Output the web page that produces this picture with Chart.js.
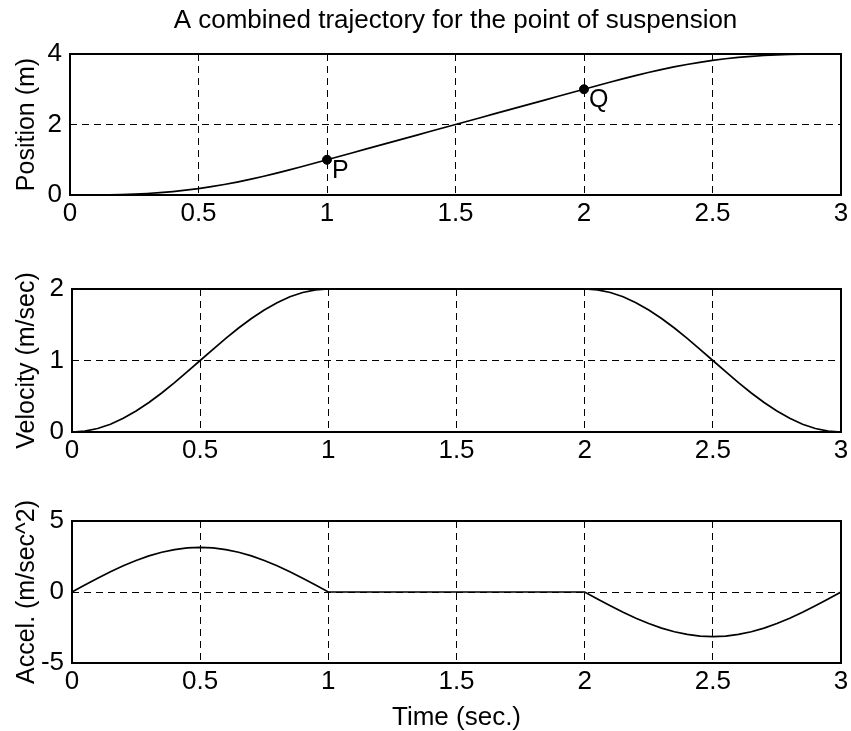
<!DOCTYPE html>
<html><head><meta charset="utf-8">
<script src="https://cdn.jsdelivr.net/npm/chart.js@4/dist/chart.umd.min.js"></script>
<style>
html,body{margin:0;padding:0;background:#fff;}
body{width:851px;height:731px;position:relative;overflow:hidden;}
canvas{position:absolute;left:0;}
</style></head><body>
<canvas id="c1" width="851" height="240" style="top:0px"></canvas>
<canvas id="c2" width="851" height="240" style="top:240px"></canvas>
<canvas id="c3" width="851" height="251" style="top:480px"></canvas>
<script>
// ---- data ----
const chartTitle = 'A combined trajectory for the point of suspension';
const xAxisTitle = 'Time (sec.)';
const times = [0,0.05,0.1,0.15,0.2,0.25,0.3,0.35,0.4,0.45,0.5,0.55,0.6,0.65,0.7,0.75,0.8,0.85,0.9,0.95,
  1,1.05,1.1,1.15,1.2,1.25,1.3,1.35,1.4,1.45,1.5,1.55,1.6,1.65,1.7,1.75,1.8,1.85,1.9,1.95,
  2,2.05,2.1,2.15,2.2,2.25,2.3,2.35,2.4,2.45,2.5,2.55,2.6,2.65,2.7,2.75,2.8,2.85,2.9,2.95,3];
const position = [0,0.0002,0.0016,0.0055,0.0129,0.0249,0.0425,0.0664,0.0973,0.1356,0.1817,0.2356,0.2973,0.3664,0.4425,0.5249,0.6129,0.7055,0.8016,0.9002,
  1.0,1.1,1.2,1.3,1.4,1.5,1.6,1.7,1.8,1.9,2.0,2.1,2.2,2.3,2.4,2.5,2.6,2.7,2.8,2.9,
  3.0,3.0998,3.1984,3.2945,3.3871,3.4751,3.5575,3.6336,3.7027,3.7644,3.8183,3.8644,3.9027,3.9336,3.9575,3.9751,3.9871,3.9945,3.9984,3.9998,4.0];
const velocity = [0,0.0123,0.0489,0.1090,0.1910,0.2929,0.4122,0.5460,0.6910,0.8436,1.0,1.1564,1.3090,1.4540,1.5878,1.7071,1.8090,1.8910,1.9511,1.9877,
  2,2,2,2,2,2,2,2,2,2,2,2,2,2,2,2,2,2,2,2,
  2,1.9877,1.9511,1.8910,1.8090,1.7071,1.5878,1.4540,1.3090,1.1564,1.0,0.8436,0.6910,0.5460,0.4122,0.2929,0.1910,0.1090,0.0489,0.0123,0];
const accel = [0,0.4914,0.9708,1.4263,1.8466,2.2214,2.5416,2.7992,2.9878,3.1029,3.1416,3.1029,2.9878,2.7992,2.5416,2.2214,1.8466,1.4263,0.9708,0.4914,
  0,0,0,0,0,0,0,0,0,0,0,0,0,0,0,0,0,0,0,0,
  0,-0.4914,-0.9708,-1.4263,-1.8466,-2.2214,-2.5416,-2.7992,-2.9878,-3.1029,-3.1416,-3.1029,-2.9878,-2.7992,-2.5416,-2.2214,-1.8466,-1.4263,-0.9708,-0.4914,0];
const markerNames = ['P','Q'];
const markerTimes = [1,2];
const markerPositions = [1,3];
const xTickLabels = ['0','0.5','1','1.5','2','2.5','3'];
const posTickLabels = ['0','2','4'];
const velTickLabels = ['0','1','2'];
const accTickLabels = ['-5','0','5'];

// ---- rendering ----
Chart.defaults.font.family = '"Liberation Sans", Arial, sans-serif';
Chart.defaults.color = '#000';
const BLACK = '#000';
const CLEAR = 'rgba(0,0,0,0)';

const boxPlugin = {
  id: 'box',
  afterDatasetsDraw(chart) {
    const a = chart.chartArea, c = chart.ctx;
    c.save(); c.strokeStyle = BLACK; c.lineWidth = 2;
    c.strokeRect(a.left, a.top, a.right - a.left, a.bottom - a.top);
    c.restore();
  }
};
const labelPlugin = {
  id: 'ptlabels',
  afterDatasetsDraw(chart) {
    const xs = chart.scales.x, ys = chart.scales.y, c = chart.ctx;
    c.save(); c.fillStyle = BLACK; c.font = '25px "Liberation Sans", Arial, sans-serif';
    c.textAlign = 'left'; c.textBaseline = 'middle';
    markerNames.forEach((n, i) => {
      c.fillText(n, xs.getPixelForValue(markerTimes[i]) + 5, ys.getPixelForValue(markerPositions[i]) + 11);
    });
    c.restore();
  }
};

function xy(vals) { return times.map((t, i) => ({x: t, y: vals[i]})); }

function makePanel(id, vals, yMin, yMax, yStep, yTicks, yTitle, cfg) {
  const datasets = [{
    type: 'line', data: xy(vals), borderColor: BLACK, borderWidth: 1.7,
    pointRadius: 0, tension: 0, fill: false
  }];
  if (cfg.markers) {
    datasets.push({
      type: 'scatter', data: markerTimes.map((t, i) => ({x: t, y: markerPositions[i]})),
      pointRadius: 4.5, backgroundColor: BLACK, borderColor: BLACK, showLine: false
    });
  }
  return new Chart(document.getElementById(id), {
    type: 'line',
    data: {datasets},
    options: {
      responsive: false, animation: false, devicePixelRatio: 1,
      layout: {padding: {left: 0, right: 10, top: cfg.padTop, bottom: 0}},
      plugins: {
        legend: {display: false}, tooltip: {enabled: false},
        title: cfg.title ? {display: true, text: chartTitle, fullSize: false, color: BLACK,
          font: {size: 26, weight: 'normal'}, padding: {top: 5, bottom: 17.8}} : {display: false}
      },
      scales: {
        x: {
          type: 'linear', min: 0, max: 3,
          ticks: {stepSize: 0.5, autoSkip: false, maxRotation: 0, padding: 3, color: BLACK,
            font: {size: 26}, callback: (v, i) => xTickLabels[i]},
          grid: {drawTicks: false, lineWidth: 1,
            color: ctx => (ctx.tick && (ctx.tick.value === 0 || ctx.tick.value === 3)) ? CLEAR : BLACK},
          border: {display: false, dash: [7, 5]},
          title: cfg.xTitle ? {display: true, text: xAxisTitle, color: BLACK,
            font: {size: 26, lineHeight: 1}, padding: {top: 0, bottom: 0}} : {display: false},
          afterFit(s) { s.height = cfg.xH; s.paddingLeft = 0; s.paddingRight = 0; }
        },
        y: {
          min: yMin, max: yMax,
          ticks: {stepSize: yStep, padding: 8, color: BLACK, font: {size: 26},
            callback: (v, i) => yTicks[i]},
          grid: {drawTicks: false, lineWidth: 1,
            color: ctx => (ctx.tick && (ctx.tick.value === yMin || ctx.tick.value === yMax)) ? CLEAR : BLACK},
          border: {display: false, dash: [7, 5]},
          title: {display: true, text: yTitle, color: BLACK, font: {size: 25},
            padding: {top: 12, bottom: 0}},
          afterFit(s) { s.width = cfg.left; s.paddingTop = 0; s.paddingBottom = 0; }
        }
      }
    },
    plugins: cfg.markers ? [boxPlugin, labelPlugin] : [boxPlugin]
  });
}

makePanel('c1', position, 0, 4, 2, posTickLabels, 'Position (m)',
  {title: true, markers: true, padTop: 0, xH: 45, left: 70});
makePanel('c2', velocity, 0, 2, 1, velTickLabels, 'Velocity (m/sec)',
  {padTop: 49, xH: 48, left: 72});
makePanel('c3', accel, -5, 5, 5, accTickLabels, 'Accel. (m/sec^2)',
  {padTop: 41, xH: 68, left: 72, xTitle: true});
</script>
</body></html>
